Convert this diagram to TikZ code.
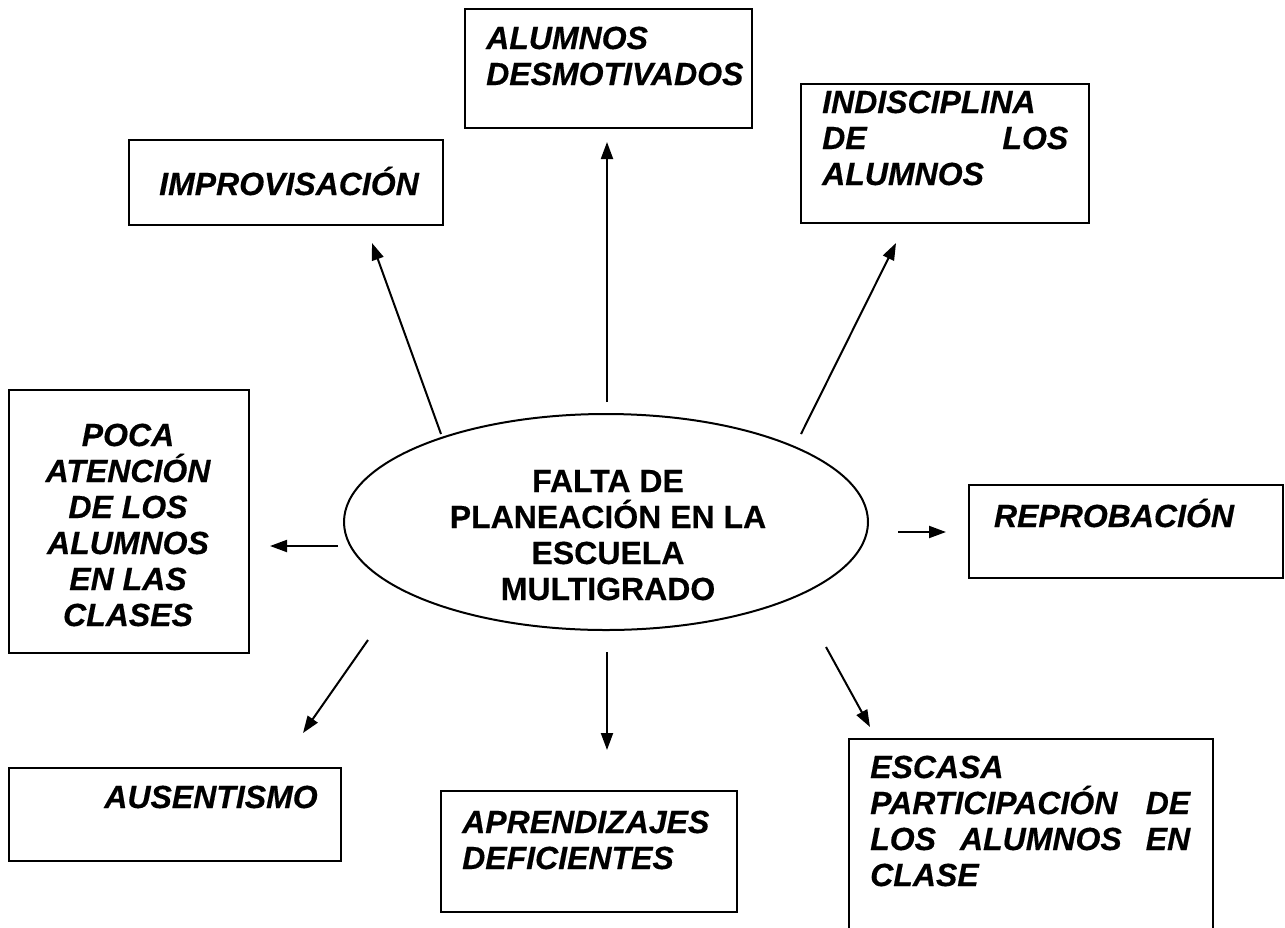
\documentclass[tikz,border=0pt]{standalone}
\usepackage{fontspec}
\setmainfont{Liberation Sans}[BoldFeatures={FakeBold=0.4},BoldItalicFeatures={FakeBold=0.4}]
\usetikzlibrary{arrows.meta,shapes.geometric}
\begin{document}
\begin{tikzpicture}[x=1pt,y=-1pt,
  box/.style={draw, line width=2pt, inner sep=0pt, anchor=north west},
  lbl/.style={font=\bfseries\itshape\fontsize{32}{36}\selectfont, anchor=base west, inner sep=0pt},
  clbl/.style={font=\bfseries\fontsize{32}{36}\selectfont, anchor=base, inner sep=0pt},
  plbl/.style={font=\bfseries\itshape\fontsize{32}{36}\selectfont, anchor=base, inner sep=0pt},
  arr/.style={line width=2pt, -{Triangle[length=17pt,width=12pt]}}]
\useasboundingbox (0,0) rectangle (1285,927);
% boxes
\node[box, minimum width=287pt, minimum height=119pt] (bdes) at (464,8) {};
\node[box, minimum width=314pt, minimum height=85pt] (bimp) at (128,139) {};
\node[box, minimum width=288pt, minimum height=139pt] (bind) at (800,83) {};
\node[box, minimum width=240pt, minimum height=263pt] (bpoc) at (8,389) {};
\node[box, minimum width=314pt, minimum height=93pt] (brep) at (968,484) {};
\node[box, minimum width=332pt, minimum height=93pt] (baus) at (8,767) {};
\node[box, minimum width=296pt, minimum height=121pt] (bapr) at (440,790) {};
\node[box, minimum width=364pt, minimum height=210pt] (besc) at (848,738) {};
% ellipse
\node[draw, ellipse, line width=2pt, minimum width=524pt, minimum height=216pt, inner sep=0pt] (ell) at (606,522) {};
% texts
\node[lbl] (tdes1) at (486,49) {ALUMNOS};
\node[lbl] (tdes2) at (486,85) {DESMOTIVADOS};
\node[plbl] (timp) at (289,195) {IMPROVISACIÓN};
\node[lbl] (tind1) at (822,113) {INDISCIPLINA};
\node[lbl] (tind2) at (822,149) {\hbox to 246pt{DE\hfill LOS}};
\node[lbl] (tind3) at (822,185) {ALUMNOS};
\node[plbl] (tpoc1) at (128,446) {POCA};
\node[plbl] (tpoc2) at (128,482) {ATENCIÓN};
\node[plbl] (tpoc3) at (128,518) {DE LOS};
\node[plbl] (tpoc4) at (128,554) {ALUMNOS};
\node[plbl] (tpoc5) at (128,590) {EN LAS};
\node[plbl] (tpoc6) at (128,626) {CLASES};
\node[plbl] (trep) at (1114,527) {REPROBACIÓN};
\node[plbl] (taus) at (211,808) {AUSENTISMO};
\node[lbl] (tapr1) at (462,833) {APRENDIZAJES};
\node[lbl] (tapr2) at (462,869) {DEFICIENTES};
\node[lbl] (tesc1) at (870,778) {ESCASA};
\node[lbl] (tesc2) at (870,814) {\hbox to 320pt{PARTICIPACIÓN\hfill DE}};
\node[lbl] (tesc3) at (870,850) {\hbox to 320pt{LOS\hfill ALUMNOS\hfill EN}};
\node[lbl] (tesc4) at (870,886) {CLASE};
\node[clbl] (tc1) at (608,492) {FALTA DE};
\node[clbl] (tc2) at (608,528) {PLANEACIÓN EN LA};
\node[clbl] (tc3) at (608,564) {ESCUELA};
\node[clbl] (tc4) at (608,600) {MULTIGRADO};
% arrow end points
\coordinate (s1) at (441,434); \coordinate (e1) at (372,243);
\coordinate (s2) at (607,402); \coordinate (e2) at (607,142);
\coordinate (s3) at (801,434); \coordinate (e3) at (896,243);
\coordinate (s4) at (338,546); \coordinate (e4) at (270,546);
\coordinate (s5) at (898,532); \coordinate (e5) at (946,532);
\coordinate (s6) at (368,640); \coordinate (e6) at (303,733);
\coordinate (s7) at (607,652); \coordinate (e7) at (607,750);
\coordinate (s8) at (826,647); \coordinate (e8) at (870,727);
\foreach \i in {1,...,8} \draw[arr] (s\i) -- (e\i);
\end{tikzpicture}
\end{document}
